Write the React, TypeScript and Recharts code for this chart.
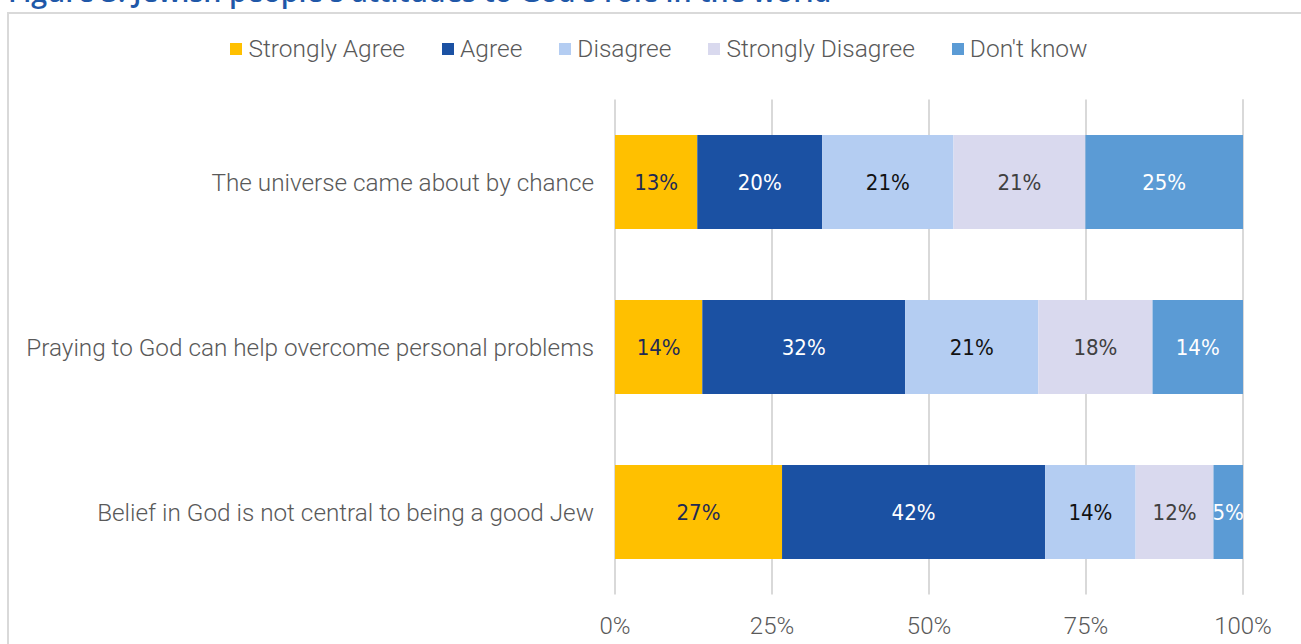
import React from "react";
import { BarChart, Bar, XAxis, YAxis, CartesianGrid, LabelList } from "recharts";

const categories = [
  "The universe came about by chance",
  "Praying to God can help overcome personal problems",
  "Belief in God is not central to being a good Jew",
];
const stronglyAgree = [13.1, 13.9, 26.6];
const agree = [19.9, 32.3, 41.9];
const disagree = [20.9, 21.2, 14.4];
const stronglyDisagree = [21.0, 18.2, 12.4];
const dontKnow = [25.1, 14.4, 4.7];
const xTicks = [0, 25, 50, 75, 100];

const seriesDefs = [
  { key: "sa", name: "Strongly Agree", values: stronglyAgree, color: "#FFC000", label: "#1F2A55" },
  { key: "a", name: "Agree", values: agree, color: "#1B51A3", label: "#FFFFFF" },
  { key: "d", name: "Disagree", values: disagree, color: "#B4CDF2", label: "#111111" },
  { key: "sd", name: "Strongly Disagree", values: stronglyDisagree, color: "#D9D9EE", label: "#404040" },
  { key: "dk", name: "Don't know", values: dontKnow, color: "#5B9BD5", label: "#FFFFFF" },
];

const data = categories.map((c, i) => {
  const row: Record<string, any> = { name: c };
  seriesDefs.forEach((s) => (row[s.key] = s.values[i]));
  return row;
});

const FONT = "Roboto, 'Open Sans', sans-serif";
const LABEL_FONT = "'Liberation Sans Narrow', 'DejaVu Sans Condensed', Roboto, sans-serif";

function LegendBox() {
  return (
    <div
      style={{
        position: "absolute",
        left: 0,
        top: 34,
        width: 1301,
        height: 30,
        display: "flex",
        justifyContent: "center",
        alignItems: "center",
        paddingLeft: 17,
        boxSizing: "border-box",
      }}
    >
      {seriesDefs.map((s, i) => (
        <div key={s.key} style={{ display: "flex", alignItems: "center", marginRight: i < seriesDefs.length - 1 ? 37 : 0 }}>
          <div style={{ width: 12, height: 12, background: s.color, marginRight: 6 }} />
          <span style={{ fontFamily: FONT, fontSize: 24.5, color: "#595959", fontWeight: 300, lineHeight: "30px" }}>{s.name}</span>
        </div>
      ))}
    </div>
  );
}

export default function App() {
  return (
    <div style={{ position: "fixed", left: 0, top: 0, width: 1301, height: 644, overflow: "hidden", background: "#fff" }}>
      <svg style={{ position: "absolute", left: 0, top: 0 }} width={1301} height={20}>
        <text x={8} y={2} fontSize={28.6} fontWeight={600} fill="#1F58A8" fontFamily="'Open Sans', sans-serif">
          Figure 3: Jewish people's attitudes to God's role in the world
        </text>
      </svg>
      <div
        style={{
          position: "absolute",
          left: 7,
          top: 12,
          width: 1400,
          height: 700,
          border: "2px solid #D9D9D9",
          boxSizing: "border-box",
        }}
      />
      <LegendBox />
      <div style={{ position: "absolute", left: 0, top: 0 }}>
        <BarChart
          width={1301}
          height={644}
          data={data}
          layout="vertical"
          barCategoryGap="21.5%"
          margin={{ top: 99.5, right: 58, bottom: 9.5, left: 0 }}
        >
          <CartesianGrid horizontal={false} stroke="#D9D9D9" strokeWidth={2} />
          <XAxis
            type="number"
            domain={[0, 100]}
            ticks={xTicks}
            tickFormatter={(v: number) => `${v}%`}
            axisLine={false}
            tickLine={false}
            tickSize={0}
            tickMargin={22}
            height={40}
            tick={{ fill: "#595959", fontSize: 24, fontFamily: FONT, fontWeight: 300 }}
            interval={0}
          />
          <YAxis
            type="category"
            dataKey="name"
            width={615}
            axisLine={false}
            tickLine={false}
            tickSize={0}
            tickMargin={21}
            tick={{ fill: "#595959", fontSize: 24.3, fontFamily: FONT, fontWeight: 300 }}
            interval={0}
          />
          {seriesDefs.map((s) => (
            <Bar key={s.key} dataKey={s.key} name={s.name} stackId="1" fill={s.color} isAnimationActive={false}>
              <LabelList
                dataKey={s.key}
                position="center"
                formatter={(v: any) => `${Math.round(Number(v))}%`}
                fill={s.label}
                style={{ fontFamily: LABEL_FONT, fontSize: 22 }}
              />
            </Bar>
          ))}
        </BarChart>
      </div>
    </div>
  );
}
